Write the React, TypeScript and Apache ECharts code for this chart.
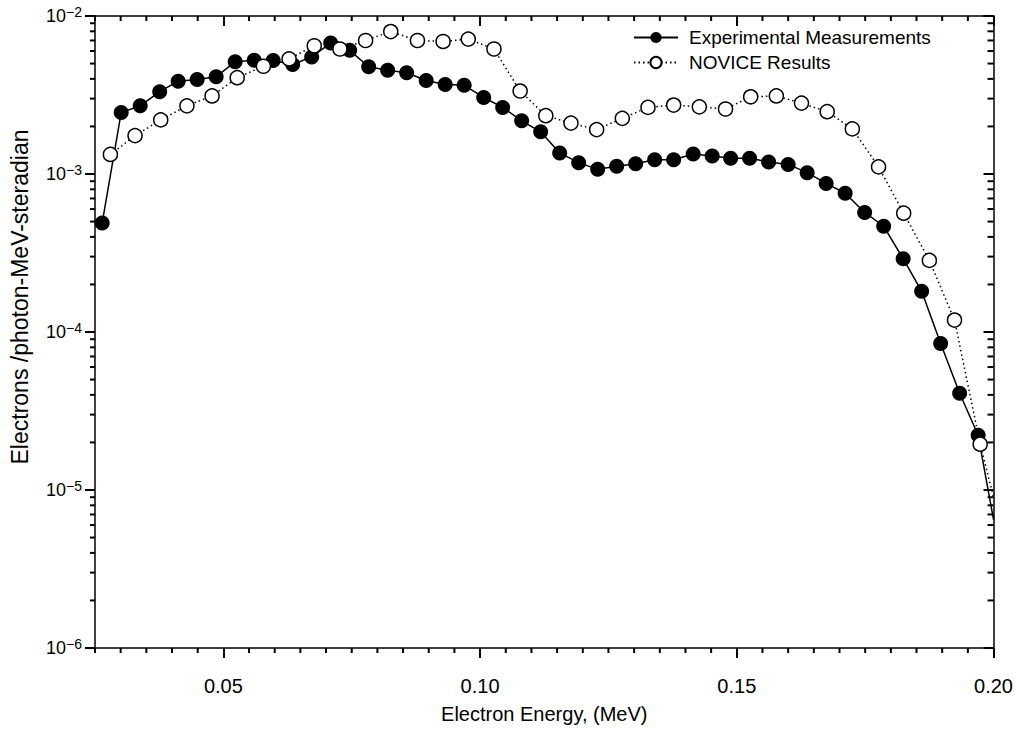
import React, { useEffect, useRef } from "react";
import * as echarts from "echarts";

// Experimental Measurements (filled circles)
const expX = [
  0.0264, 0.0301, 0.0338, 0.0376, 0.0412, 0.0449, 0.0486, 0.0523, 0.0560, 0.0597,
  0.0635, 0.0672, 0.0709, 0.0746, 0.0783, 0.0820, 0.0857, 0.0895, 0.0932, 0.0969,
  0.1007, 0.1044, 0.1081, 0.1118, 0.1155, 0.1192, 0.1229, 0.1266, 0.1303, 0.1340,
  0.1377, 0.1415, 0.1452, 0.1488, 0.1525, 0.1562, 0.1600, 0.1637, 0.1674, 0.1711,
  0.1749, 0.1786, 0.1824, 0.1860, 0.1897, 0.1934, 0.1970, 0.2000,
];
const expY = [
  4.9e-4, 2.45e-3, 2.7e-3, 3.32e-3, 3.87e-3, 3.97e-3, 4.13e-3, 5.13e-3, 5.25e-3, 5.22e-3,
  4.93e-3, 5.51e-3, 6.74e-3, 6.06e-3, 4.77e-3, 4.54e-3, 4.37e-3, 3.91e-3, 3.69e-3, 3.64e-3,
  3.05e-3, 2.64e-3, 2.17e-3, 1.85e-3, 1.36e-3, 1.18e-3, 1.07e-3, 1.12e-3, 1.16e-3, 1.23e-3,
  1.23e-3, 1.34e-3, 1.3e-3, 1.26e-3, 1.26e-3, 1.19e-3, 1.15e-3, 1.02e-3, 8.72e-4, 7.55e-4,
  5.71e-4, 4.67e-4, 2.91e-4, 1.81e-4, 8.45e-5, 4.1e-5, 2.22e-5, 6.5e-6,
];

// NOVICE Results (open circles)
const novX = [
  0.0280, 0.0328, 0.0378, 0.0429, 0.0478, 0.0527, 0.0578, 0.0628, 0.0677, 0.0727,
  0.0777, 0.0826, 0.0878, 0.0928, 0.0977, 0.1027, 0.1078, 0.1128, 0.1177, 0.1227,
  0.1277, 0.1327, 0.1377, 0.1427, 0.1478, 0.1527, 0.1577, 0.1626, 0.1676, 0.1725,
  0.1776, 0.1825, 0.1875, 0.1924, 0.1974, 0.2000,
];
const novY = [
  1.33e-3, 1.75e-3, 2.2e-3, 2.7e-3, 3.12e-3, 4.07e-3, 4.81e-3, 5.35e-3, 6.48e-3, 6.18e-3,
  7.0e-3, 7.97e-3, 7.0e-3, 6.9e-3, 7.14e-3, 6.18e-3, 3.35e-3, 2.34e-3, 2.1e-3, 1.91e-3,
  2.25e-3, 2.64e-3, 2.73e-3, 2.66e-3, 2.58e-3, 3.08e-3, 3.12e-3, 2.81e-3, 2.48e-3, 1.93e-3,
  1.11e-3, 5.65e-4, 2.84e-4, 1.19e-4, 1.95e-5, 9.0e-6,
];

const seriesNames = ["Experimental Measurements", "NOVICE Results"];
const xTitle = "Electron Energy, (MeV)";
const yTitle = "Electrons /photon-MeV-steradian";

const xMin = 0.025;
const xMax = 0.2;
const yMin = 1e-6;
const yMax = 1e-2;
const xMajorTicks = [0.05, 0.1, 0.15, 0.2];
const xMinorTicks = [
  0.025, 0.03, 0.035, 0.04, 0.045, 0.055, 0.06, 0.065, 0.07, 0.075, 0.08, 0.085, 0.09,
  0.095, 0.105, 0.11, 0.115, 0.12, 0.125, 0.13, 0.135, 0.14, 0.145, 0.155, 0.16,
  0.165, 0.17, 0.175, 0.18, 0.185, 0.19, 0.195,
];
const yDecades = [1e-6, 1e-5, 1e-4, 1e-3, 1e-2];
const yMantissas = [2, 3, 4, 5, 6, 7, 8, 9];

const FONT = "'Liberation Sans', Arial, Helvetica, sans-serif";

export default function App() {
  const ref = useRef<HTMLDivElement>(null);

  useEffect(() => {
    if (!ref.current) return;
    const chart = echarts.init(ref.current, undefined, { renderer: "svg" });

    const yMinorTicks: number[] = [];
    yDecades.slice(0, -1).forEach((d) => yMantissas.forEach((m) => yMinorTicks.push(+(m * d).toPrecision(3))));

    const expData = expX.map((x, i) =>
      i === expX.length - 1 ? { value: [x, expY[i]], symbol: "none" } : { value: [x, expY[i]] }
    );
    const novData = novX.map((x, i) =>
      i === novX.length - 1 ? { value: [x, novY[i]], symbol: "none" } : { value: [x, novY[i]] }
    );

    const TW = 2;
    const majorTick = (inside: boolean, values?: number[]) => ({
      show: true,
      inside,
      length: 10,
      ...(values ? { customValues: values } : {}),
      lineStyle: { color: "#000", width: TW },
    });

    const xBase = { type: "value", min: xMin, max: xMax, splitLine: { show: false } };
    const yBase = { type: "log", logBase: 10, min: yMin, max: yMax, splitLine: { show: false } };
    const frameLine = { show: true, onZero: false, lineStyle: { color: "#000", width: 1.5 } };

    chart.setOption({
      animation: false,
      backgroundColor: "#fff",
      textStyle: { fontFamily: FONT },
      grid: { left: 93, right: 22, top: 16, bottom: 75 },
      legend: {
        data: seriesNames,
        orient: "vertical",
        left: 628,
        top: 23,
        itemWidth: 44,
        itemHeight: 14,
        itemGap: 6,
        textStyle: { fontSize: 19, color: "#000", fontFamily: FONT, padding: [0, 0, 0, 6] },
        selectedMode: false,
      },
      xAxis: [
        {
          ...xBase,
          position: "bottom",
          axisLine: frameLine,
          axisTick: majorTick(false, xMajorTicks),
          axisLabel: {
            show: true,
            customValues: xMajorTicks,
            formatter: (v: number) => v.toFixed(2),
            color: "#000",
            fontSize: 20,
            fontFamily: FONT,
            margin: 28,
          },
          name: xTitle,
          nameLocation: "middle",
          nameGap: 56,
          nameTextStyle: { fontSize: 20, color: "#000", fontFamily: FONT },
        },
        {
          ...xBase,
          position: "top",
          axisLine: frameLine,
          axisTick: majorTick(true, xMajorTicks),
          axisLabel: { show: false },
        },
      ],
      yAxis: [
        {
          ...yBase,
          position: "left",
          axisLine: frameLine,
          axisTick: majorTick(false),
          axisLabel: {
            show: true,
            customValues: yDecades,
            margin: 13,
            formatter: (v: number) => `{b|10}{s|${Math.round(Math.log10(v)).toString().replace("-", "\u2212")}}`,
            rich: {
              b: { fontSize: 18, color: "#000", fontFamily: FONT, lineHeight: 22 },
              s: { fontSize: 14, color: "#000", fontFamily: FONT, lineHeight: 14, verticalAlign: "top" },
            },
          },
          name: yTitle,
          nameLocation: "middle",
          nameGap: 64,
          nameTextStyle: { fontSize: 23, color: "#000", fontFamily: FONT, padding: [0, 0, 0, 70] },
        },
        {
          ...yBase,
          position: "right",
          axisLine: frameLine,
          axisTick: majorTick(true),
          axisLabel: { show: false },
        },
      ],
      series: [
        {
          type: "line",
          name: seriesNames[0],
          xAxisIndex: 0,
          yAxisIndex: 0,
          data: expData,
          symbol: "circle",
          symbolSize: 15,
          showAllSymbol: true,
          lineStyle: { color: "#000", width: 1.5, type: "solid" },
          itemStyle: { color: "#000", borderColor: "#000", borderWidth: 0 },
          silent: true,
          z: 3,
        },
        {
          type: "line",
          name: seriesNames[1],
          xAxisIndex: 0,
          yAxisIndex: 0,
          data: novData,
          symbol: "circle",
          symbolSize: 14,
          showAllSymbol: true,
          lineStyle: { color: "#000", width: 1.5, type: [1.5, 3] },
          itemStyle: { color: "#fff", borderColor: "#000", borderWidth: 1.5 },
          silent: true,
          z: 4,
        },
        {
          // minor ticks on bottom (outward) and top (inward)
          type: "custom",
          xAxisIndex: 0,
          yAxisIndex: 0,
          data: xMinorTicks.map((v) => [v, yMin]),
          silent: true,
          z: 6,
          renderItem: (params: any, api: any) => {
            const b = api.coord([api.value(0), yMin]);
            const t = api.coord([api.value(0), yMax]);
            return {
              type: "group",
              children: [
                { type: "rect", shape: { x: b[0] - TW / 2, y: b[1], width: TW, height: 5 }, style: { fill: "#000" } },
                { type: "rect", shape: { x: t[0] - TW / 2, y: t[1], width: TW, height: 5 }, style: { fill: "#000" } },
              ],
            };
          },
        },
        {
          // minor ticks on left (outward) and right (inward)
          type: "custom",
          xAxisIndex: 0,
          yAxisIndex: 0,
          data: yMinorTicks.map((v) => [xMin, v]),
          silent: true,
          z: 6,
          renderItem: (params: any, api: any) => {
            const l = api.coord([xMin, api.value(1)]);
            const r = api.coord([xMax, api.value(1)]);
            return {
              type: "group",
              children: [
                { type: "rect", shape: { x: l[0] - 5, y: l[1] - TW / 2, width: 5, height: TW }, style: { fill: "#000" } },
                { type: "rect", shape: { x: r[0] - 6, y: r[1] - TW / 2, width: 6, height: TW }, style: { fill: "#000" } },
              ],
            };
          },
        },
      ],
    });

    return () => chart.dispose();
  }, []);

  return (
    <div
      ref={ref}
      style={{ position: "fixed", left: 0, top: 0, width: 1016, height: 729, background: "#fff" }}
    />
  );
}
